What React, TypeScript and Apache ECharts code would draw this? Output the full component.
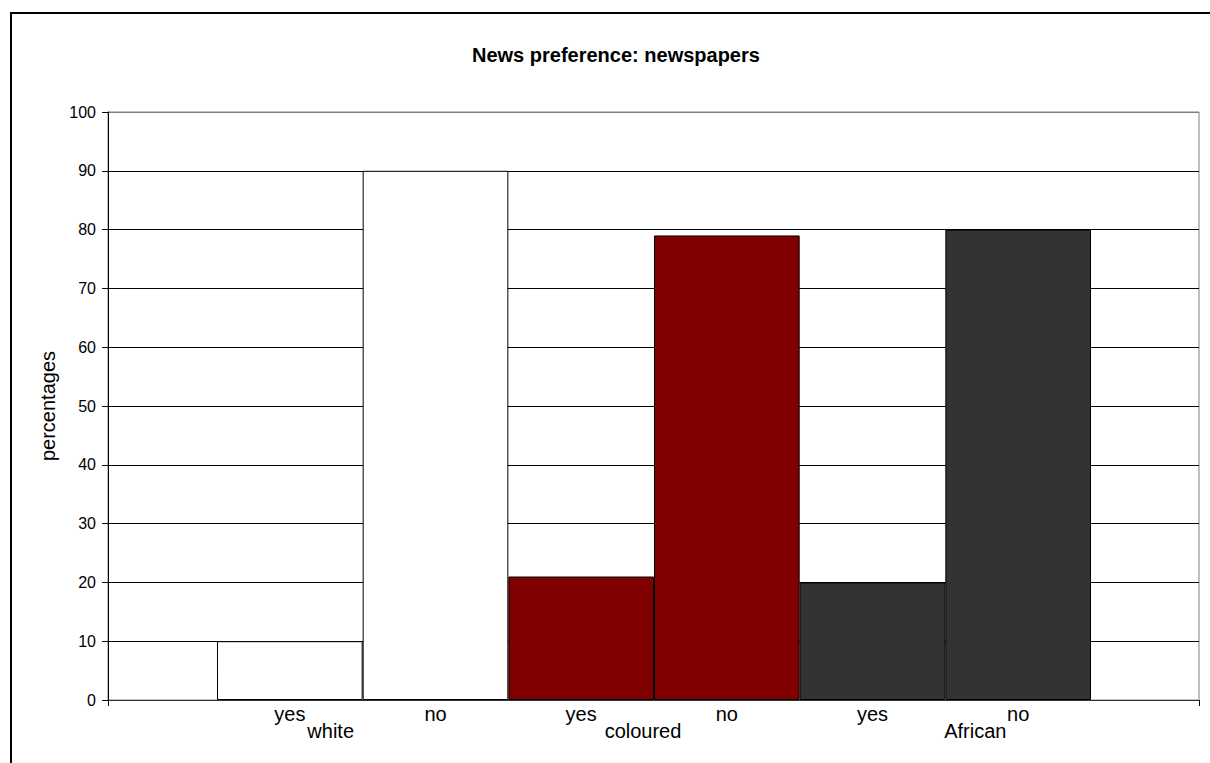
import React, { useEffect, useRef } from 'react';
import * as echarts from 'echarts';

const titleText = 'News preference: newspapers';
const yAxisName = 'percentages';
const categories = ['yes', 'no', 'yes', 'no', 'yes', 'no'];
const groups = ['white', 'coloured', 'African'];
const values = [10, 90, 21, 79, 20, 80];
const groupOfBar = [0, 0, 1, 1, 2, 2];
const groupColors = ['#FFFFFF', '#800000', '#333333'];
const yMin = 0;
const yMax = 100;
const yInterval = 10;

const FONT = "'Liberation Sans', Arial, sans-serif";

export default function App() {
  const ref = useRef<HTMLDivElement>(null);
  useEffect(() => {
    if (!ref.current) return;
    const chart = echarts.init(ref.current, undefined, { renderer: 'svg' });
    const nLines = Math.round((yMax - yMin) / yInterval) + 1;
    const splitColors = Array.from({ length: nLines }, (_, i) => (i === nLines - 1 ? '#808080' : '#000000'));
    chart.setOption({
      animation: false,
      backgroundColor: '#FFFFFF',
      textStyle: { fontFamily: FONT, color: '#000' },
      title: {
        text: titleText,
        left: 467,
        top: 40,
        textStyle: { fontSize: 20, fontWeight: 'bold', color: '#000', fontFamily: FONT },
      },
      graphic: [
        {
          type: 'rect',
          silent: true,
          z: -10,
          shape: { x: 11, y: 13, width: 1240, height: 800 },
          style: { fill: 'none', stroke: '#000', lineWidth: 2 },
        },
      ],
      grid: [
        { left: 108, top: 112, width: 1091, height: 588, show: true, borderColor: '#808080', borderWidth: 1, backgroundColor: 'transparent' },
        { left: 217, top: 112, width: 874, height: 588 },
      ],
      xAxis: [
        {
          gridIndex: 0,
          type: 'value',
          min: 0,
          max: 1,
          interval: 1,
          axisLine: { show: true, lineStyle: { color: '#333', width: 1 } },
          axisTick: { show: true, length: 6, lineStyle: { color: '#000' } },
          axisLabel: { show: false },
          splitLine: { show: false },
        },
        {
          gridIndex: 1,
          type: 'category',
          data: categories,
          axisLine: { show: false },
          axisTick: { show: false },
          axisLabel: { interval: 0, margin: 4, fontSize: 20, color: '#000', fontFamily: FONT },
        },
        {
          gridIndex: 1,
          type: 'category',
          data: groups,
          position: 'bottom',
          offset: 17,
          axisLine: { show: false },
          axisTick: { show: false },
          axisLabel: {
            interval: 0,
            margin: 4,
            fontSize: 20,
            color: '#000',
            fontFamily: FONT,
            formatter: (v: string, i: number) => `{g${i}|${v}}`,
            rich: {
              g0: { fontSize: 20, fontFamily: FONT, color: '#000', padding: [0, 64, 0, 0] },
              g1: { fontSize: 20, fontFamily: FONT, color: '#000', padding: [0, 22, 0, 0] },
              g2: { fontSize: 20, fontFamily: FONT, color: '#000', padding: [0, 0, 0, 60] },
            },
          },
        },
      ],
      yAxis: [
        {
          gridIndex: 0,
          type: 'value',
          min: yMin,
          max: yMax,
          interval: yInterval,
          name: yAxisName,
          nameLocation: 'middle',
          nameGap: 47,
          nameTextStyle: { fontSize: 20, color: '#000', fontFamily: FONT },
          axisLine: { show: true, lineStyle: { color: '#000', width: 1 } },
          axisTick: { show: true, length: 6, lineStyle: { color: '#000' } },
          axisLabel: { fontSize: 16, margin: 12, color: '#000', fontFamily: FONT },
          splitLine: { show: true, lineStyle: { color: splitColors, width: 1 } },
        },
        { gridIndex: 1, type: 'value', min: yMin, max: yMax, show: false, splitLine: { show: false } },
      ],
      series: [
        {
          type: 'bar',
          xAxisIndex: 1,
          yAxisIndex: 1,
          barCategoryGap: '0%',
          itemStyle: { borderColor: '#000', borderWidth: 1 },
          data: values.map((v, i) => ({ value: v, itemStyle: { color: groupColors[groupOfBar[i]] } })),
        },
      ],
    });
    return () => chart.dispose();
  }, []);
  return <div ref={ref} style={{ position: 'fixed', left: 0, top: 0, width: 1210, height: 763 }} />;
}
